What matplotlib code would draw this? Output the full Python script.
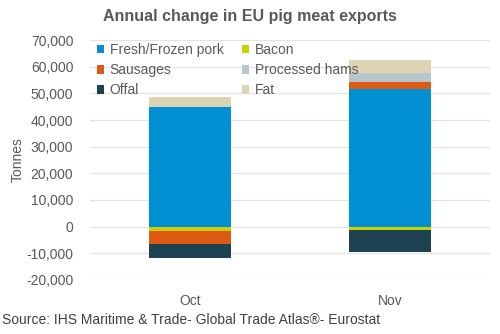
import numpy as np
import matplotlib.pyplot as plt

plt.rcParams['font.family'] = ['Liberation Sans', 'DejaVu Sans']

# data (tonnes, annual change)
months = ['Oct', 'Nov']
series = ['Fresh/Frozen pork', 'Bacon', 'Sausages', 'Processed hams', 'Offal', 'Fat']
fresh = [44800, 51600]
bacon = [-1750, -1100]
sausages = [-4600, 2600]
hams = [0, 3600]
offal = [-5250, -8400]
fat = [4000, 4750]
values = [fresh, bacon, sausages, hams, offal, fat]
colors = ['#0090D3', '#C9D200', '#DE5A14', '#B5C6CD', '#1E4252', '#DDD4B3']

fig = plt.figure(figsize=(5, 3.34), dpi=100)
ax = fig.add_axes([0.18, 0.162, 0.80, 0.718])

x = np.arange(len(months))
pos_bottom = np.zeros(len(months))
neg_bottom = np.zeros(len(months))
handles = []
for name, vals, c in zip(series, values, colors):
    vals = np.array(vals, dtype=float)
    bottom = np.where(vals >= 0, pos_bottom, neg_bottom)
    h = ax.bar(x, vals, 0.41, bottom=bottom, color=c, label=name, zorder=3)
    handles.append(h)
    pos_bottom += np.where(vals >= 0, vals, 0)
    neg_bottom += np.where(vals < 0, vals, 0)

ax.set_xlim(-0.5, 1.5)
ax.set_ylim(-20000, 70000)
ax.set_yticks(np.arange(-20000, 70001, 10000))
ax.yaxis.set_major_formatter(plt.FuncFormatter(lambda v, p: f'{int(v):,}'))
ax.set_xticks(x)
ax.set_xticklabels(months)
ax.grid(axis='y', color='#E3E3E3', linewidth=0.9, zorder=0)
for s in ax.spines.values():
    s.set_visible(False)
ax.tick_params(axis='y', length=0, labelsize=10, colors='#595959', pad=12)
ax.tick_params(axis='x', length=0, labelsize=10, colors='#595959', pad=10)
ax.set_ylabel('Tonnes', fontsize=10, color='#595959', labelpad=1)

fig.text(0.5, 0.95, 'Annual change in EU pig meat exports', fontsize=11.5,
         fontweight='bold', color='#595959', ha='center', va='center')

# legend ordered row by row like the original
order = [0, 2, 4, 1, 3, 5]
ax.legend([handles[i] for i in order], [series[i] for i in order],
          ncol=2, loc='upper left', frameon=False, fontsize=10,
          handlelength=0.55, handleheight=0.55, handletextpad=0.4,
          columnspacing=1.3, labelspacing=0.45, labelcolor='#595959',
          bbox_to_anchor=(-0.015, 1.04))

fig.text(0.004, 0.03, 'Source: IHS Maritime & Trade- Global Trade Atlas®- Eurostat',
         fontsize=10, color='#404040')

fig.savefig('out.png', dpi=100)
